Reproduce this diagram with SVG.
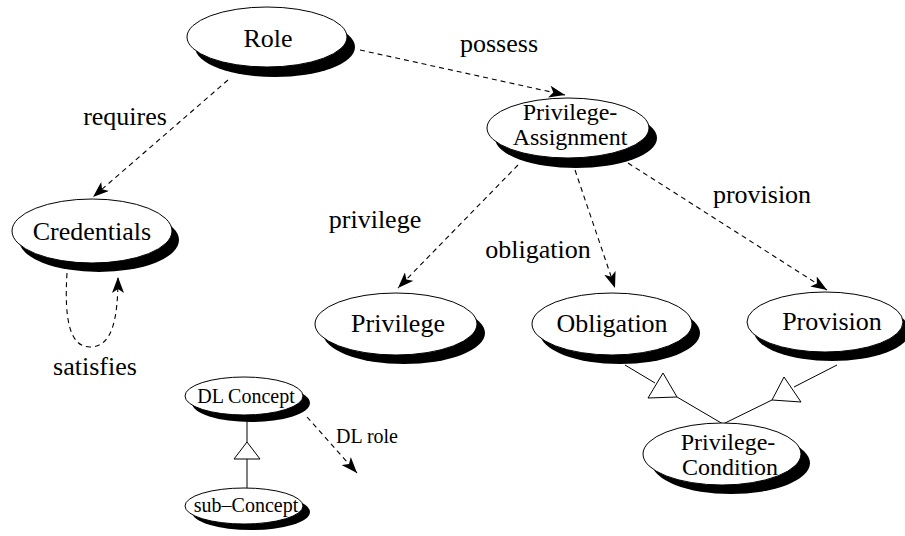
<svg xmlns="http://www.w3.org/2000/svg" width="905" height="536" viewBox="0 0 905 536">
<style>
text{font-family:"Liberation Serif","Times New Roman",serif;fill:#000;text-anchor:middle}
.nl{font-size:26px}
.ml{font-size:24px}
.sl{font-size:20px}
.sh{fill:#000}
.nd{fill:#fff;stroke:#000;stroke-width:1}
.dash{fill:none;stroke:#000;stroke-width:1.1;stroke-dasharray:5,4}
.ln{fill:none;stroke:#000;stroke-width:1}
.tri{fill:#fff;stroke:#000;stroke-width:1}
</style>
<defs>
<marker id="ah" markerWidth="17" markerHeight="12" refX="16" refY="6" orient="auto" markerUnits="userSpaceOnUse">
<path d="M0,0 L16,6 L0,12 L4,6 Z" fill="#000"/>
</marker>
</defs>
<g id="connectors">
<path class="dash" d="M360,50 L565,95" marker-end="url(#ah)"/>
<path class="dash" d="M228,80 L93,197" marker-end="url(#ah)"/>
<path class="dash" d="M518,165 L398,288" marker-end="url(#ah)"/>
<path class="dash" d="M575,170 L615,288" marker-end="url(#ah)"/>
<path class="dash" d="M628,163 L827,290" marker-end="url(#ah)"/>
<path class="dash" d="M307,417 L357,473" marker-end="url(#ah)"/>
<path class="dash" d="M67,273 C64,320 70,347 90,347 C112,347 118,320 118,277" marker-end="url(#ah)"/>
<path class="ln" d="M625,365 L655,383"/>
<path class="ln" d="M677,397 L723,424"/>
<path class="ln" d="M837,365 L794,387"/>
<path class="ln" d="M772,400 L723,424"/>
<polygon class="tri" points="663,373 648,398 677,397"/>
<polygon class="tri" points="784,377 772,400 801,402"/>
<path class="ln" d="M247,415 L247,442"/>
<path class="ln" d="M247,459 L247,489"/>
<polygon class="tri" points="247,442 234,459 260,459"/>
<text class="nl" x="125" y="125">requires</text>
<text class="nl" x="499" y="52">possess</text>
<text class="nl" x="375" y="228">privilege</text>
<text class="nl" x="538" y="258">obligation</text>
<text class="nl" x="762" y="203">provision</text>
<text class="nl" x="95" y="375">satisfies</text>
<text class="sl" x="367" y="443">DL role</text>
</g>
<g id="role">
<ellipse class="sh" cx="275" cy="47" rx="80" ry="30"/>
<ellipse class="nd" cx="267" cy="37" rx="80" ry="30"/>
<text class="nl" x="268" y="47">Role</text>
</g>
<g id="privilege-assignment">
<ellipse class="sh" cx="576" cy="138" rx="81" ry="30"/>
<ellipse class="nd" cx="568" cy="128" rx="81" ry="30"/>
<text class="ml" x="570" y="120">Privilege-<tspan x="570" dy="25">Assignment</tspan></text>
</g>
<g id="credentials">
<ellipse class="sh" cx="99" cy="240" rx="80" ry="32"/>
<ellipse class="nd" cx="92" cy="231" rx="80" ry="32"/>
<text class="nl" x="92" y="240">Credentials</text>
</g>
<g id="privilege">
<ellipse class="sh" cx="404" cy="333" rx="81" ry="31"/>
<ellipse class="nd" cx="396" cy="324" rx="81" ry="31"/>
<text class="nl" x="398" y="332">Privilege</text>
</g>
<g id="obligation">
<ellipse class="sh" cx="620" cy="333" rx="80" ry="31"/>
<ellipse class="nd" cx="612" cy="324" rx="80" ry="31"/>
<text class="nl" x="612" y="332">Obligation</text>
</g>
<g id="provision">
<ellipse class="sh" cx="832" cy="331" rx="78" ry="30"/>
<ellipse class="nd" cx="825" cy="322" rx="78" ry="30"/>
<text class="nl" x="832" y="330">Provision</text>
</g>
<g id="privilege-condition">
<ellipse class="sh" cx="731" cy="463" rx="79" ry="31"/>
<ellipse class="nd" cx="722" cy="454" rx="79" ry="31"/>
<text class="ml" x="728" y="450">Privilege-<tspan x="730" dy="25">Condition</tspan></text>
</g>
<g id="dl-concept">
<ellipse class="sh" cx="251" cy="403" rx="59" ry="19"/>
<ellipse class="nd" cx="244" cy="396" rx="59" ry="19"/>
<text class="sl" x="246" y="403">DL Concept</text>
</g>
<g id="sub-concept">
<ellipse class="sh" cx="251" cy="512" rx="59" ry="18"/>
<ellipse class="nd" cx="244" cy="506" rx="59" ry="18"/>
<text class="sl" x="246" y="512">sub–Concept</text>
</g>
</svg>
